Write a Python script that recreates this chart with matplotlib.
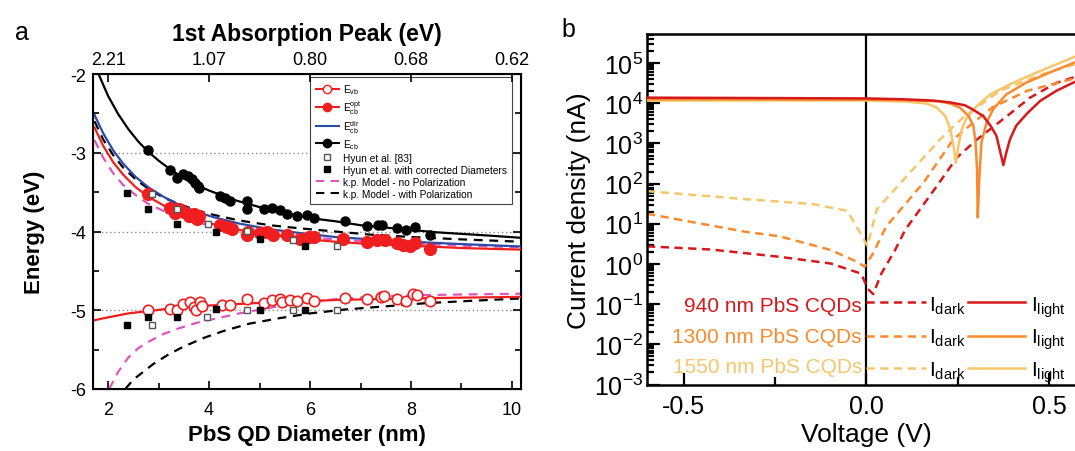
import matplotlib
matplotlib.use("Agg")
import matplotlib.pyplot as plt
from matplotlib.lines import Line2D
from matplotlib.ticker import (MultipleLocator, LogLocator, NullFormatter, FixedLocator,
                               FormatStrFormatter)

plt.rcParams['font.family'] = ['Liberation Sans', 'DejaVu Sans']
plt.rcParams['axes.unicode_minus'] = False
plt.rcParams['mathtext.fontset'] = 'custom'
plt.rcParams['mathtext.rm'] = 'Liberation Sans'
plt.rcParams['mathtext.it'] = 'Liberation Sans:italic'
plt.rcParams['mathtext.bf'] = 'Liberation Sans:bold'

# ---------------- panel a: band edges vs PbS QD diameter ----------------
# E_cb (black filled circles)
d_cb = [2.78, 3.23, 3.36, 3.49, 3.59, 3.66, 3.72, 3.78, 3.80, 4.22, 4.32, 4.42,
        4.75, 4.75, 5.08, 5.24, 5.41, 5.54, 5.74, 5.94, 6.07, 6.69, 7.12, 7.35,
        7.42, 7.72, 7.91, 8.08, 8.38]
e_cb = [-2.96, -3.22, -3.32, -3.27, -3.30, -3.33, -3.38, -3.42, -3.45, -3.55, -3.58, -3.61,
        -3.61, -3.71, -3.71, -3.70, -3.73, -3.78, -3.80, -3.79, -3.83, -3.87, -3.93, -3.92,
        -3.92, -3.96, -3.98, -3.94, -4.04]

# E_cb^opt (red filled circles)
d_opt = [2.78, 3.23, 3.33, 3.40, 3.50, 3.60, 3.70, 3.76, 3.80, 4.22, 4.35, 4.45,
         4.75, 4.78, 5.01, 5.14, 5.27, 5.54, 5.80, 5.97, 6.07, 6.66, 7.12, 7.32,
         7.48, 7.72, 7.85, 7.98, 8.08, 8.38]
e_opt = [-3.53, -3.70, -3.76, -3.72, -3.75, -3.80, -3.78, -3.84, -3.80, -3.92, -3.94, -3.97,
         -4.05, -4.00, -4.02, -4.01, -4.05, -4.05, -4.09, -4.07, -4.07, -4.09, -4.13, -4.11,
         -4.11, -4.15, -4.17, -4.19, -4.14, -4.22]

# E_vb (red open circles)
d_vb = [2.78, 3.23, 3.37, 3.49, 3.62, 3.70, 3.74, 3.82, 3.86, 4.25, 4.42, 4.75,
        5.08, 5.24, 5.41, 5.45, 5.60, 5.74, 5.94, 6.07, 6.69, 7.12, 7.40, 7.47,
        7.72, 7.91, 8.04, 8.11, 8.38]
e_vb = [-5.00, -4.99, -5.00, -4.92, -4.89, -4.96, -5.00, -4.89, -4.94, -4.93, -4.93, -4.86,
        -4.91, -4.87, -4.86, -4.89, -4.87, -4.88, -4.85, -4.88, -4.84, -4.86, -4.83, -4.82,
        -4.86, -4.88, -4.79, -4.81, -4.88]

# Hyun et al. [83] (open squares)
d_hyun_cb = [2.86, 3.36, 3.97, 4.76, 5.66, 6.54]
e_hyun_cb = [-3.53, -3.71, -3.90, -3.99, -4.11, -4.19]
d_hyun_vb = [2.86, 3.95, 4.76, 5.66, 6.54]
e_hyun_vb = [-5.19, -5.09, -5.00, -5.00, -5.00]

# Hyun et al. with corrected diameters (filled squares)
d_corr = [2.37, 2.78, 3.37, 4.13, 5.00, 5.90]
e_corr_cb = [-3.51, -3.71, -3.90, -4.00, -4.10, -4.19]
e_corr_vb = [-5.19, -5.09, -5.09, -4.99, -5.00, -5.00]

# fitted / model curves
d_fit_cb = [1.81, 2.0, 2.2, 2.4, 2.6, 2.8, 3.0, 3.25, 3.5, 3.75, 4.0, 4.5, 5.0, 5.5,
            6.0, 6.5, 7.0, 7.5, 8.0, 8.5, 9.0, 9.5, 10.18]
e_fit_cb = [-2.00, -2.28, -2.51, -2.70, -2.86, -2.99, -3.10, -3.22, -3.32, -3.41, -3.48,
            -3.60, -3.69, -3.76, -3.83, -3.87, -3.92, -3.95, -3.98, -4.01, -4.03, -4.05, -4.08]

d_grid = [1.73, 1.9, 2.1, 2.3, 2.55, 2.8, 3.1, 3.4, 3.75, 4.1, 4.6, 5.2, 5.8, 6.5,
          7.2, 8.0, 9.0, 10.18]
e_fit_dir = [-2.52, -2.75, -2.97, -3.14, -3.31, -3.44, -3.56, -3.66, -3.75, -3.82, -3.90,
             -3.97, -4.02, -4.07, -4.10, -4.13, -4.16, -4.19]
e_fit_opt = [-2.68, -2.91, -3.12, -3.28, -3.44, -3.56, -3.67, -3.76, -3.84, -3.91, -3.98,
             -4.04, -4.09, -4.13, -4.16, -4.18, -4.21, -4.23]
e_kp_pol_cb = [-2.60, -2.83, -3.03, -3.19, -3.34, -3.46, -3.57, -3.65, -3.73, -3.79, -3.86,
               -3.92, -3.96, -4.00, -4.04, -4.07, -4.10, -4.13]
e_kp_nopol_cb = [-2.84, -3.06, -3.26, -3.41, -3.54, -3.65, -3.74, -3.82, -3.88, -3.94, -3.99,
                 -4.04, -4.07, -4.10, -4.13, -4.15, -4.18, -4.20]

d_fit_vb = [1.70, 2.0, 2.4, 2.8, 3.2, 3.6, 4.0, 4.6, 5.2, 5.8, 6.5, 7.2, 8.0, 9.0, 10.18]
e_fit_vb = [-5.13, -5.09, -5.04, -5.01, -4.98, -4.96, -4.94, -4.92, -4.90, -4.89, -4.87,
            -4.86, -4.85, -4.84, -4.83]

d_kp_nopol_vb = [2.02, 2.2, 2.4, 2.6, 2.8, 3.1, 3.4, 3.75, 4.1, 4.6, 5.2, 5.8, 6.5, 7.2,
                 8.0, 9.0, 10.18]
e_kp_nopol_vb = [-6.00, -5.78, -5.60, -5.48, -5.40, -5.30, -5.23, -5.16, -5.11, -5.04, -4.97,
                 -4.90, -4.86, -4.83, -4.81, -4.80, -4.79]
d_kp_pol_vb = [2.34, 2.5, 2.7, 2.9, 3.2, 3.5, 3.9, 4.3, 4.8, 5.4, 6.0, 6.7, 7.5, 8.3, 9.2, 10.18]
e_kp_pol_vb = [-6.00, -5.88, -5.78, -5.68, -5.56, -5.46, -5.35, -5.26, -5.17, -5.10, -5.04,
               -4.99, -4.95, -4.91, -4.88, -4.85]

top_tick_pos = [2, 4, 6, 8, 10]
top_tick_labels = ['2.21', '1.07', '0.80', '0.68', '0.62']

# ---------------- panel b: I-V curves ----------------
v_light_940 = [-0.60, -0.30, 0.00, 0.10, 0.18, 0.23, 0.27, 0.29, 0.32, 0.34, 0.356, 0.367,
               0.375, 0.383, 0.393, 0.41, 0.44, 0.476, 0.52, 0.57, 0.60]
i_light_940 = [13800, 13500, 13200, 12600, 11700, 10500, 8900, 7100, 4800, 2750, 1550, 590,
               290, 590, 1260, 2750, 5600, 11500, 20400, 33900, 41700]

v_light_1300 = [-0.60, -0.30, 0.00, 0.10, 0.20, 0.23, 0.256, 0.28, 0.293, 0.299, 0.303,
                0.305, 0.309, 0.315, 0.329, 0.347, 0.383, 0.437, 0.50, 0.568, 0.60]
i_light_1300 = [12600, 12600, 12300, 12000, 11200, 9800, 7800, 4800, 2750, 1050, 230,
                14.5, 130, 1050, 3300, 7100, 16600, 32400, 57500, 102000, 126000]

v_light_1550 = [-0.60, -0.30, 0.00, 0.111, 0.166, 0.193, 0.216, 0.23, 0.24, 0.245, 0.252,
                0.261, 0.275, 0.302, 0.339, 0.402, 0.475, 0.571, 0.60]
i_light_1550 = [11700, 11700, 11700, 11000, 9800, 7800, 4800, 2240, 720, 330, 870,
                2240, 4400, 8500, 16600, 32400, 63100, 145000, 178000]

v_dark_940 = [-0.60, -0.425, -0.238, -0.098, -0.014, 0.004, 0.019, 0.041, 0.079, 0.107,
              0.193, 0.248, 0.303, 0.385, 0.448, 0.521, 0.565, 0.60]
i_dark_940 = [2.75, 2.29, 1.51, 1.03, 0.575, 0.24, 0.178, 0.575, 2.24, 7.2,
              87, 447, 1260, 4790, 13800, 32400, 43600, 52500]

v_dark_1300 = [-0.60, -0.33, -0.238, -0.098, -0.024, -0.005, 0.019, 0.041, 0.056, 0.157,
               0.238, 0.293, 0.345, 0.44, 0.562, 0.60]
i_dark_1300 = [17.8, 6.3, 4.9, 2.24, 1.12, 0.85, 1.86, 4.9, 8.9, 107,
               1260, 3300, 7900, 20400, 39800, 47900]

v_dark_1550 = [-0.60, -0.33, -0.145, -0.052, -0.014, 0.003, 0.029, 0.111, 0.202, 0.265,
               0.366, 0.48, 0.60]
i_dark_1550 = [65, 41, 31, 21, 5.4, 2.8, 23, 155, 1260, 4470, 20400, 52500, 112000]

samples = ['940 nm PbS CQDs', '1300 nm PbS CQDs', '1550 nm PbS CQDs']
sample_colors = ['#d7191c', '#f98a2e', '#f5c66c']

# ---------------------------------------------------------------------------
fig = plt.figure(figsize=(10.75, 4.52), dpi=100)

RED = '#f01e1e'
BLUE = '#2b4aa8'
PINK = '#e055bb'

ax = fig.add_axes([93 / 1075, 62 / 452, 428 / 1075, 315 / 452])
ax.set_xlim(1.70, 10.18)
ax.set_ylim(-6, -2)

for y in (-3, -4, -5):
    ax.axhline(y, color='#8a8a8a', lw=1.0, ls=(0, (1, 2)), zorder=0)

ax.plot(d_kp_nopol_vb, e_kp_nopol_vb, color=PINK, lw=1.6, dashes=(4, 3), zorder=2)
ax.plot(d_kp_pol_vb, e_kp_pol_vb, color='black', lw=1.6, dashes=(4, 3), zorder=2)
ax.plot(d_grid, e_kp_nopol_cb, color=PINK, lw=1.6, dashes=(4, 3), zorder=2)
ax.plot(d_grid, e_kp_pol_cb, color='black', lw=1.6, dashes=(4, 3), zorder=2)
ax.plot(d_grid, e_fit_opt, color=RED, lw=1.6, zorder=3)
ax.plot(d_fit_vb, e_fit_vb, color=RED, lw=1.6, zorder=3)
ax.plot(d_grid, e_fit_dir, color=BLUE, lw=1.6, zorder=3)
ax.plot(d_fit_cb, e_fit_cb, color='black', lw=1.6, zorder=3)

ax.plot(d_opt, e_opt, 'o', color=RED, ms=8.5, mec=RED, zorder=4)
ax.plot(d_vb, e_vb, 'o', mfc='white', mec=RED, mew=1.2, ms=7.5, zorder=4)
ax.plot(d_cb, e_cb, 'o', color='black', ms=6.5, zorder=4)
ax.plot(d_hyun_cb, e_hyun_cb, 's', mfc='white', mec='#555555', mew=1.0, ms=5, zorder=5)
ax.plot(d_hyun_vb, e_hyun_vb, 's', mfc='white', mec='#555555', mew=1.0, ms=5, zorder=5)
ax.plot(d_corr, e_corr_cb, 's', color='black', ms=5, zorder=5)
ax.plot(d_corr, e_corr_vb, 's', color='black', ms=5, zorder=5)

ax.xaxis.set_major_locator(MultipleLocator(2))
ax.xaxis.set_minor_locator(MultipleLocator(1))
ax.yaxis.set_major_locator(MultipleLocator(1))
ax.yaxis.set_minor_locator(MultipleLocator(0.5))
ax.tick_params(which='both', direction='in', right=True, top=False, width=1.2,
               labelsize=13, colors='black')
ax.tick_params(which='major', length=6)
ax.tick_params(which='minor', length=4)
ax.tick_params(axis='x', pad=9)
ax.tick_params(axis='y', pad=5)
for s in ax.spines.values():
    s.set_linewidth(1.5)
ax.set_xlabel('PbS QD Diameter (nm)', fontsize=16, fontweight='bold', labelpad=4)
ax.set_ylabel('Energy (eV)', fontsize=16, fontweight='bold', labelpad=18)

axt = ax.twiny()
axt.set_xlim(ax.get_xlim())
axt.xaxis.set_major_locator(FixedLocator(top_tick_pos))
axt.set_xticklabels(top_tick_labels)
axt.tick_params(direction='in', length=6, width=1.2, labelsize=13, pad=4)
axt.set_xlabel('1st Absorption Peak (eV)', fontsize=16.5, fontweight='bold', labelpad=8)

handles = [
    Line2D([], [], color=RED, lw=1.5, marker='o', mfc='white', mec=RED, ms=6),
    Line2D([], [], color=RED, lw=1.5, marker='o', mfc=RED, mec=RED, ms=6),
    Line2D([], [], color=BLUE, lw=1.5),
    Line2D([], [], color='black', lw=1.5, marker='o', ms=6),
    Line2D([], [], ls='none', marker='s', mfc='white', mec='#555555', ms=5),
    Line2D([], [], ls='none', marker='s', color='black', ms=5),
    Line2D([], [], color=PINK, lw=1.5, dashes=(4, 3)),
    Line2D([], [], color='black', lw=1.5, dashes=(4, 3)),
]
labels = [r'$\mathregular{E_{vb}}$', r'$\mathregular{E_{cb}^{opt}}$',
          r'$\mathregular{E_{cb}^{dir}}$', r'$\mathregular{E_{cb}}$',
          'Hyun et al. [83]', 'Hyun et al. with corrected Diameters',
          'k.p. Model - no Polarization', 'k.p. Model - with Polarization']
leg = ax.legend(handles, labels, loc='upper right', bbox_to_anchor=(0.979, 0.99),
                borderaxespad=0, fontsize=7.3, handlelength=2.3, handletextpad=0.4,
                labelspacing=0.2, borderpad=0.5, fancybox=False, framealpha=1)
leg.get_frame().set_edgecolor('#444444')
leg.get_frame().set_linewidth(0.8)

fig.text(22 / 1075, 1 - 33 / 452, 'a', fontsize=18, ha='center', va='center')

# ---------------- panel b ----------------
bx = fig.add_axes([647 / 1075, 66.5 / 452, 438.6 / 1075, 350.5 / 452])
bx.set_xlim(-0.6, 0.6)
bx.set_yscale('log')
bx.set_ylim(1e-3, 5.3e5)
bx.axvline(0, color='black', lw=1.6, zorder=1)

dash = (3.3, 2.2)
for v, i, c in zip([v_dark_940, v_dark_1300, v_dark_1550],
                   [i_dark_940, i_dark_1300, i_dark_1550], sample_colors):
    bx.plot(v, i, color=c, lw=1.8, dashes=dash, zorder=2)
for v, i, c in zip([v_light_1550, v_light_1300, v_light_940],
                   [i_light_1550, i_light_1300, i_light_940], sample_colors[::-1]):
    bx.plot(v, i, color=c, lw=1.8, zorder=3)

bx.xaxis.set_major_locator(FixedLocator([-0.5, 0.0, 0.5]))
bx.xaxis.set_minor_locator(FixedLocator([-0.25, 0.25]))
bx.xaxis.set_major_formatter(FormatStrFormatter('%.1f'))
bx.yaxis.set_major_locator(LogLocator(base=10, numticks=20))
bx.yaxis.set_minor_locator(LogLocator(base=10, subs=range(2, 10), numticks=20))
bx.yaxis.set_minor_formatter(NullFormatter())
bx.tick_params(which='both', direction='in', right=False, top=False, width=1.6,
               labelsize=18)
bx.tick_params(which='major', length=9)
bx.tick_params(which='minor', length=5)
bx.tick_params(axis='x', which='minor', length=6)
bx.tick_params(axis='x', pad=7)
bx.tick_params(axis='y', pad=3)
for s in bx.spines.values():
    s.set_linewidth(1.8)
bx.set_xlabel('Voltage (V)', fontsize=19, labelpad=3)
bx.set_ylabel('Current density (nA)', fontsize=19, labelpad=2)

# legend rows: sample name, dark (dashed) and light (solid) line keys
row_line_y = [0.2354, 0.1384, 0.0471]
row_text_y = [0.2245, 0.137, 0.050]
row_sub_y = [0.2097, 0.118, 0.0248]
for k in range(3):
    c = sample_colors[k]
    bx.text(0.490, row_text_y[k], samples[k], transform=bx.transAxes, color=c,
            fontsize=15, ha='right', va='center')
    bx.plot([0.500, 0.636], [row_line_y[k]] * 2, transform=bx.transAxes, color=c,
            lw=1.8, dashes=dash)
    bx.text(0.643, row_sub_y[k], r'$\mathregular{I_{dark}}$', transform=bx.transAxes,
            color='black', fontsize=15, ha='left', va='baseline')
    bx.plot([0.732, 0.862], [row_line_y[k]] * 2, transform=bx.transAxes, color=c, lw=1.8)
    bx.text(0.8755, row_sub_y[k], r'$\mathregular{I_{light}}$', transform=bx.transAxes,
            color='black', fontsize=15, ha='left', va='baseline')

fig.text(568 / 1075, 1 - 30 / 452, 'b', fontsize=18, ha='center', va='center')

fig.savefig('out.png', dpi=100, facecolor='white')
